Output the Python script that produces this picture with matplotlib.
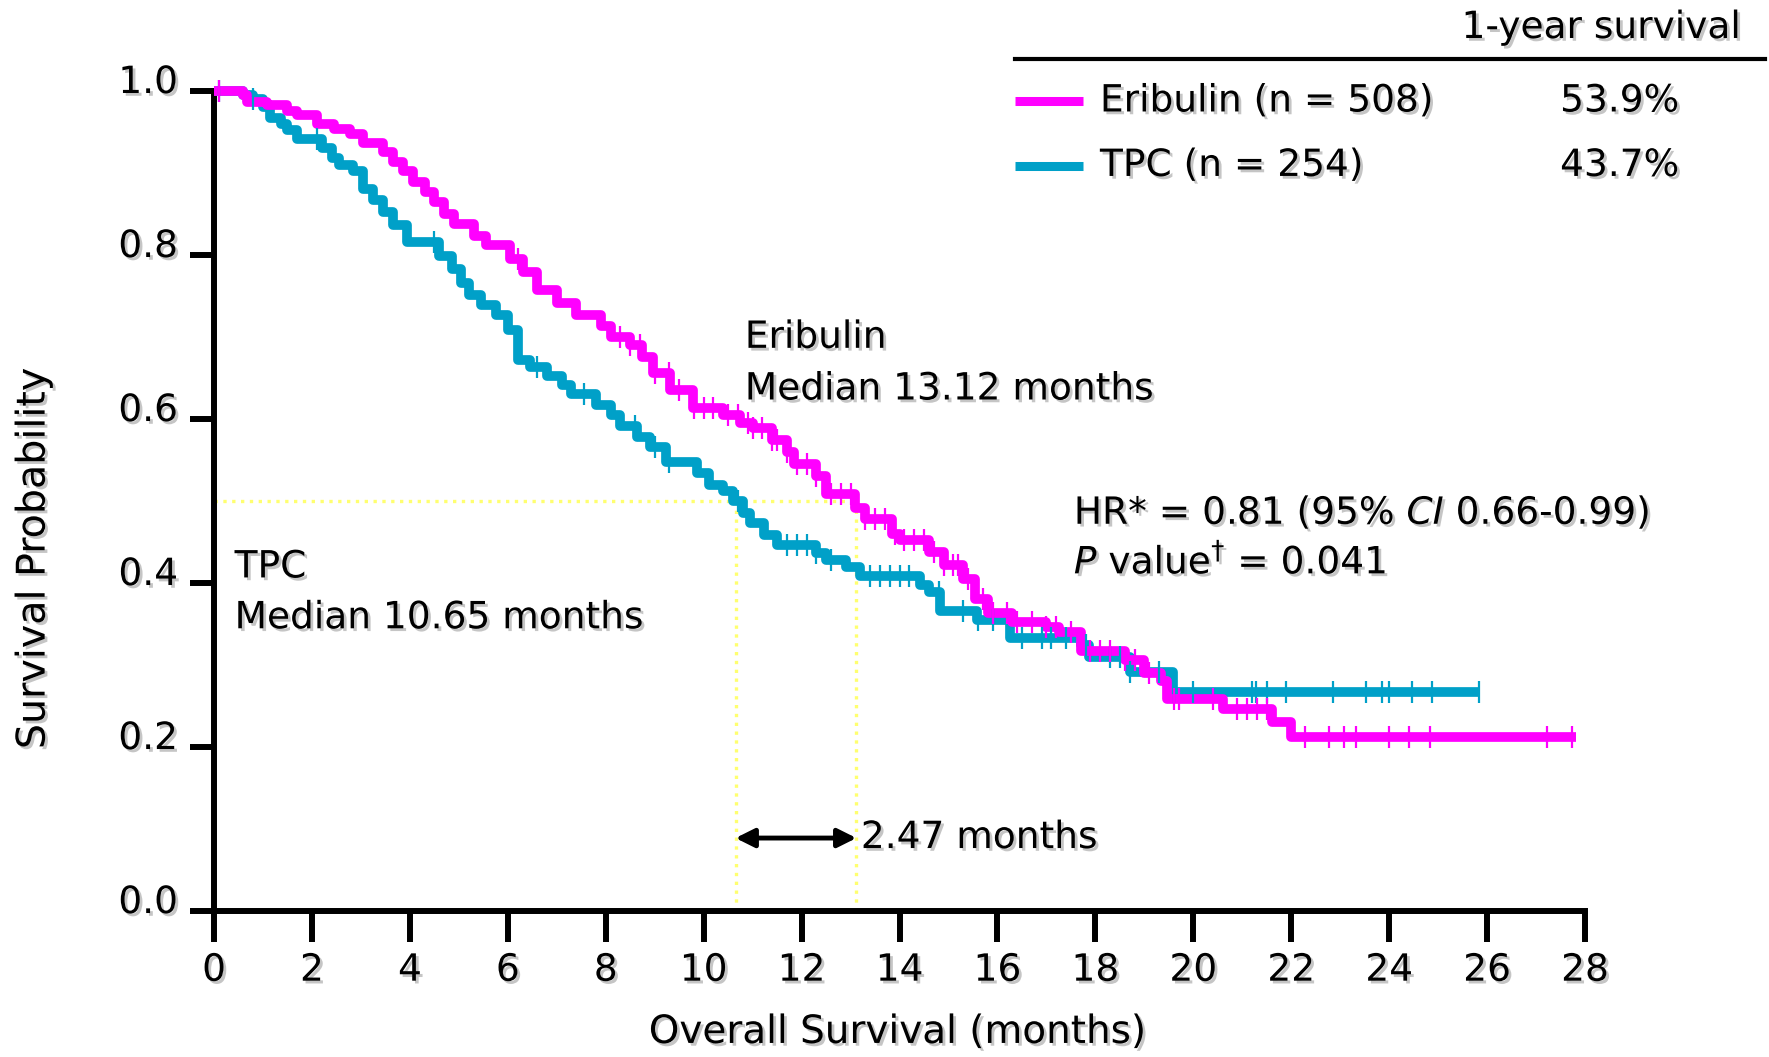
import numpy as np
import matplotlib
matplotlib.use('Agg')
import matplotlib.pyplot as plt
import matplotlib.patheffects as pe
from matplotlib.lines import Line2D
from matplotlib.transforms import ScaledTranslation

# Kaplan-Meier steps: (start time in months, survival)
eri_times = [0, 0.6, 0.67, 1.08, 1.48, 1.69, 2.1, 2.44, 2.78, 3.05, 3.46, 3.66, 3.86, 4.07,
             4.3, 4.5, 4.7, 4.9, 5.3, 5.56, 6.04, 6.3, 6.6, 7.0, 7.4, 7.9, 8.1, 8.5, 8.75,
             8.97, 9.31, 9.79, 10.4, 10.75, 11.0, 11.4, 11.7, 11.85, 12.3, 12.5, 13.1, 13.3,
             13.85, 14.0, 14.6, 14.9, 15.3, 15.55, 15.8, 16.3, 17.0, 17.25, 17.7, 18.6, 19.0,
             19.35, 19.46, 20.6, 21.6, 22.0]
eri_surv = [1.0, 0.995, 0.987, 0.983, 0.976, 0.971, 0.960, 0.954, 0.948, 0.936, 0.926, 0.914,
            0.902, 0.889, 0.877, 0.865, 0.850, 0.838, 0.823, 0.812, 0.795, 0.779, 0.757, 0.742,
            0.727, 0.713, 0.700, 0.690, 0.676, 0.656, 0.635, 0.614, 0.605, 0.595, 0.589, 0.574,
            0.560, 0.545, 0.530, 0.508, 0.492, 0.478, 0.460, 0.452, 0.438, 0.422, 0.405, 0.381,
            0.363, 0.353, 0.346, 0.340, 0.317, 0.306, 0.290, 0.280, 0.258, 0.246, 0.230, 0.212]
eri_end = 27.82
eri_censor = [0.1, 6.2, 8.3, 8.5, 8.7, 9.0, 9.3, 9.5, 9.8, 10.0, 10.2, 10.5, 10.7, 10.9, 11.0,
              11.2, 11.4, 11.5, 11.7, 11.9, 12.1, 12.3, 12.6, 12.8, 13.0, 13.3, 13.5, 13.7,
              13.9, 14.1, 14.3, 14.5, 14.7, 14.9, 15.1, 15.2, 15.4, 15.7, 15.9, 16.2, 16.4,
              16.7, 17.0, 17.2, 17.5, 17.9, 18.1, 18.3, 18.6, 18.8, 19.1, 19.6, 19.7, 20.4,
              20.9, 21.1, 21.3, 21.5, 22.28, 22.77, 23.07, 23.33, 23.99, 24.41, 24.84,
              27.23, 27.74]

tpc_times = [0, 0.6, 0.8, 1.0, 1.15, 1.36, 1.5, 1.7, 2.2, 2.4, 2.56, 2.83, 3.04, 3.24, 3.45,
             3.65, 3.95, 4.6, 4.85, 5.05, 5.2, 5.45, 5.75, 6.0, 6.2, 6.45, 6.8, 7.1, 7.3, 7.8,
             8.1, 8.29, 8.63, 8.9, 9.24, 9.86, 10.1, 10.4, 10.6, 10.8, 10.95, 11.23, 11.5,
             12.3, 12.5, 12.9, 13.2, 14.42, 14.6, 14.83, 15.58, 16.26, 17.7, 17.86, 18.7, 19.59]
tpc_surv = [1.0, 0.995, 0.990, 0.981, 0.967, 0.960, 0.952, 0.942, 0.930, 0.918, 0.910, 0.903,
            0.880, 0.867, 0.852, 0.837, 0.816, 0.799, 0.783, 0.766, 0.751, 0.739, 0.727, 0.709,
            0.672, 0.664, 0.653, 0.641, 0.630, 0.617, 0.605, 0.591, 0.578, 0.566, 0.548, 0.534,
            0.520, 0.512, 0.500, 0.485, 0.473, 0.459, 0.446, 0.436, 0.428, 0.420, 0.408, 0.398,
            0.389, 0.366, 0.355, 0.333, 0.325, 0.310, 0.291, 0.2675]
tpc_end = 25.86
tpc_censor = [0.1, 0.8, 2.1, 4.5, 6.6, 7.55, 8.6, 9.0, 9.3, 10.7, 11.7, 11.9, 12.1, 12.3,
              12.6, 13.4, 13.6, 13.8, 14.0, 14.2, 14.8, 15.3, 15.6, 15.9, 16.5, 16.9, 17.1,
              17.4, 17.8, 18.3, 18.5, 18.7, 19.3, 19.6, 20.0, 21.2, 21.27, 21.5, 21.9, 22.86,
              23.53, 23.85, 23.99, 24.46, 24.87, 25.84]

eri_median = 13.12
tpc_median = 10.65
x_ticks = list(range(0, 29, 2))
y_ticks = [0.0, 0.2, 0.4, 0.6, 0.8, 1.0]

MAGENTA = '#FF00FF'
TEAL = '#00A0C8'
FS = 27

plt.rcParams['font.family'] = 'DejaVu Sans'
plt.rcParams['mathtext.fontset'] = 'dejavusans'
shadow = [pe.withSimplePatchShadow(offset=(2, -2), shadow_rgbFace='0.55', alpha=0.5)]

fig = plt.figure(figsize=(17.69, 10.57), dpi=100)
ax = fig.add_axes([0.121, 0.1381, 0.775, 0.7758])


def draw_km(times, surv, end, censor, color):
    t = np.array(list(times) + [end])
    s = np.array(list(surv) + [surv[-1]])
    ax.step(t, s, where='post', color=color, lw=7, clip_on=False, zorder=3,
            solid_capstyle='butt')
    c = np.array(censor)
    idx = np.searchsorted(np.array(times), c, side='right') - 1
    cy = np.array(surv)[idx]
    ax.plot(c, cy, linestyle='none', marker='|', markersize=16, markeredgewidth=1.6,
            color=color, clip_on=False, zorder=4)


# TPC first so the Eribulin curve sits on top where they overlap
draw_km(tpc_times, tpc_surv, tpc_end, tpc_censor, TEAL)
draw_km(eri_times, eri_surv, eri_end, eri_censor, MAGENTA)

# median guide lines
ylw = '#FFFF70'
ax.plot([0, eri_median], [0.5, 0.5], color=ylw, lw=2.4, ls=':', zorder=2)
ax.plot([tpc_median, tpc_median], [0, 0.5], color=ylw, lw=2.4, ls=':', zorder=2)
ax.plot([eri_median, eri_median], [0, 0.5], color=ylw, lw=2.4, ls=':', zorder=2)

ax.annotate('', xy=(tpc_median, 0.089), xytext=(eri_median, 0.089),
            arrowprops=dict(arrowstyle='<|-|>', color='black', lw=3.5,
                            mutation_scale=28, shrinkA=0, shrinkB=0))

ax.set_xlim(0, 28)
ax.set_ylim(0, 1.0)
for side in ['top', 'right']:
    ax.spines[side].set_visible(False)
for side in ['left', 'bottom']:
    ax.spines[side].set_linewidth(4.3)
ax.set_xticks(x_ticks)
ax.set_yticks(y_ticks)
ax.set_xticklabels([str(v) for v in x_ticks])
ax.set_yticklabels([f'{v:.1f}' for v in y_ticks])
ax.tick_params(axis='x', direction='out', length=22, width=4.3, labelsize=FS, pad=8)
ax.tick_params(axis='y', direction='out', length=17, width=4.3, labelsize=FS, pad=9)
offset = ScaledTranslation(0, 0.12, fig.dpi_scale_trans)
for lab in ax.get_yticklabels():
    lab.set_transform(lab.get_transform() + offset)
for lab in ax.get_xticklabels() + ax.get_yticklabels():
    lab.set_path_effects(shadow)

# annotations inside the plot
txt = dict(fontsize=FS, va='center', ha='left', path_effects=shadow)
ax.text(10.84, 0.699, 'Eribulin', **txt)
ax.text(10.84, 0.636, 'Median 13.12 months', **txt)
ax.text(0.42, 0.419, 'TPC', **txt)
ax.text(0.42, 0.357, 'Median 10.65 months', **txt)
ax.text(17.56, 0.485, r'HR* = 0.81 (95% $\mathit{CI}$ 0.66-0.99)', **txt)
ax.text(17.56, 0.426, r'$\mathit{P}$ value$^{\dagger}$ = 0.041', **txt)
ax.text(13.21, 0.089, '2.47 months', **txt)

# axis labels
fig.text(0.507, 0.0237, 'Overall Survival (months)', fontsize=28, ha='center', va='center',
         path_effects=shadow)
fig.text(0.019, 0.472, 'Survival Probability', fontsize=28.5, ha='center', va='center',
         rotation=90, path_effects=shadow)

# legend table
fig.add_artist(Line2D([0.5738, 0.9977], [0.9445, 0.9445], color='black', lw=3,
                      transform=fig.transFigure))
fig.text(0.9842, 0.9735, '1-year survival', fontsize=FS, ha='right', va='center',
         path_effects=shadow)
legend_rows = [('Eribulin (n = 508)', '53.9%', MAGENTA, 0.904),
               ('TPC (n = 254)', '43.7%', TEAL, 0.843)]
for label, pct, col, yy in legend_rows:
    fig.add_artist(Line2D([0.5738, 0.6122], [yy, yy], color=col, lw=6.5,
                          transform=fig.transFigure, solid_capstyle='butt'))
    fig.text(0.6218, yy, label, fontsize=FS, ha='left', va='center', path_effects=shadow)
    fig.text(0.8819, yy, pct, fontsize=FS, ha='left', va='center', path_effects=shadow)

fig.savefig('out.png', dpi=100)
